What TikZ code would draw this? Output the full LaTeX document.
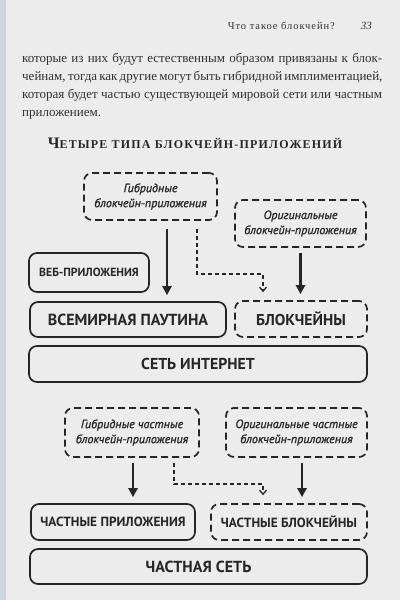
\documentclass[tikz,border=0pt]{standalone}
\usepackage{fontspec}
\setmainfont{Liberation Serif}
\newfontfamily\boxfont{PT Sans}
\newfontfamily\appfont[FakeBold=1.2]{PT Sans}
\usetikzlibrary{arrows.meta}

\definecolor{paper}{HTML}{ECECEC}
\definecolor{ink}{HTML}{262626}
\definecolor{print}{HTML}{303030}
\definecolor{edge}{HTML}{CDD5DD}

\begin{document}
\begin{tikzpicture}[x=1pt, y=-1pt,
  box/.style={draw=ink, line width=1.7pt, rounded corners=8pt, inner sep=0pt,
    text=ink, align=center, font=\boxfont\bfseries},
  dbox/.style={box, dash pattern=on 7pt off 4pt},
  apps/.style={dbox, font=\appfont\itshape\fontsize{12}{15}\selectfont},
  flow/.style={draw=ink, line width=2.6pt, shorten >=6pt,
    -{Triangle[length=9pt, width=9pt]}},
  dflow/.style={draw=ink, line width=1.3pt, dash pattern=on 4pt off 3pt,
    shorten >=8pt, -{Straight Barb[length=4pt, width=7pt]}},
  textline/.style={anchor=base west, inner sep=0pt, text=print,
    font=\fontsize{13}{18}\selectfont}
]
  \fill[paper] (0,0) rectangle (400,600);
  \fill[edge] (0,0) rectangle (6,600);

  % running head and text
  \node[anchor=base east, inner sep=0pt, text=print] (head) at (335,29)
    {\fontsize{10.5}{12}\selectfont\addfontfeature{LetterSpace=9}Что такое блокчейн?};
  \node[anchor=base east, inner sep=0pt, text=print] (page) at (372,29)
    {\fontsize{11}{12}\selectfont\itshape 33};

  \node[textline] (t1) at (22,62) {\makebox[360pt][s]{которые из них будут естественным образом привязаны к блок-}};
  \node[textline] (t2) at (22,80) {\makebox[360pt][s]{чейнам, тогда как другие могут быть гибридной имплиментацией,}};
  \node[textline] (t3) at (22,98) {\makebox[360pt][s]{которая будет частью существующей мировой сети или частным}};
  \node[textline] (t4) at (22,116) {приложением.};

  \node[anchor=base, inner sep=0pt, text=ink] (title) at (195,148)
    {\bfseries\addfontfeature{LetterSpace=10}{\fontsize{16}{16}\selectfont Ч}{\fontsize{12}{16}\selectfont ЕТЫРЕ ТИПА БЛОКЧЕЙН-ПРИЛОЖЕНИЙ}};

  % public network
  \node[apps, minimum width=133pt, minimum height=47pt] (hyb) at (150.5,196.5)
    {Гибридные\\блокчейн-приложения};
  \node[apps, minimum width=131pt, minimum height=47pt] (orig) at (300.5,223.5)
    {Оригинальные\\блокчейн-приложения};
  \node[box, minimum width=120pt, minimum height=39pt,
    font=\boxfont\bfseries\fontsize{11.8}{13}\selectfont] (web) at (89,272.5) {ВЕБ-ПРИЛОЖЕНИЯ};
  \node[box, minimum width=196pt, minimum height=35pt,
    font=\boxfont\bfseries\fontsize{16}{18}\selectfont] (www) at (128,319.5) {ВСЕМИРНАЯ ПАУТИНА};
  \node[dbox, minimum width=132pt, minimum height=36pt,
    font=\boxfont\bfseries\fontsize{15.7}{18}\selectfont] (bc) at (301,319) {БЛОКЧЕЙНЫ};
  \node[box, minimum width=338pt, minimum height=36pt,
    font=\boxfont\bfseries\fontsize{15.8}{18}\selectfont] (inet) at (198,364) {СЕТЬ ИНТЕРНЕТ};

  \coordinate (h1) at ([xshift=16.5pt, yshift=-8pt]hyb.south);
  \coordinate (h2) at ([xshift=46.5pt, yshift=-8pt]hyb.south);
  \coordinate (o1) at ([yshift=-5pt]orig.south);
  \draw[flow] (h1) -- (h1 |- www.north);
  \draw[dflow] (h2) -- ++(0,45) -| ([xshift=-38pt]bc.north);
  \draw[flow] (o1) -- (o1 |- bc.north);

  % private network
  \node[apps, minimum width=134pt, minimum height=49pt] (phyb) at (132,432.5)
    {Гибридные частные\\блокчейн-приложения};
  \node[apps, minimum width=141pt, minimum height=49pt] (porig) at (296.5,432.5)
    {Оригинальные частные\\блокчейн-приложения};
  \node[box, minimum width=164pt, minimum height=36pt,
    font=\boxfont\bfseries\fontsize{13.3}{15}\selectfont] (papp) at (113,522) {ЧАСТНЫЕ ПРИЛОЖЕНИЯ};
  \node[dbox, minimum width=156pt, minimum height=36pt,
    font=\boxfont\bfseries\fontsize{13.3}{15}\selectfont] (pbc) at (289,522) {ЧАСТНЫЕ БЛОКЧЕЙНЫ};
  \node[box, minimum width=337pt, minimum height=35pt,
    font=\boxfont\bfseries\fontsize{16}{18}\selectfont] (pnet) at (198.5,566.5) {ЧАСТНАЯ СЕТЬ};

  \coordinate (p1) at ([xshift=1pt, yshift=-5pt]phyb.south);
  \coordinate (p2) at ([xshift=42pt, yshift=-5pt]phyb.south);
  \coordinate (q1) at ([xshift=5.5pt, yshift=-5pt]porig.south);
  \draw[flow] (p1) -- (p1 |- papp.north);
  \draw[dflow] (p2) -- ++(0,21) -| ([xshift=-26pt]pbc.north);
  \draw[flow] (q1) -- (q1 |- pbc.north);
\end{tikzpicture}
\end{document}
